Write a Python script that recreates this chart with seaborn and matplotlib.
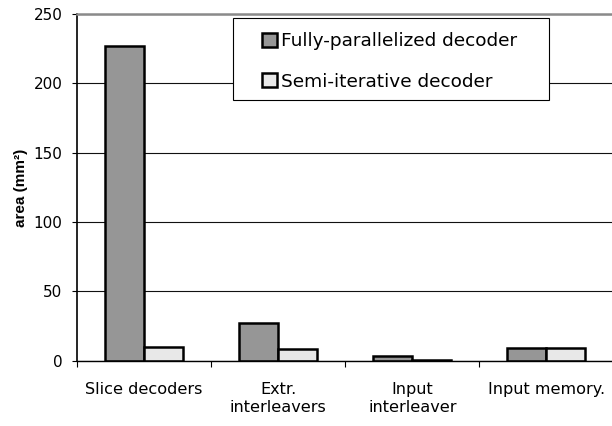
import numpy as np
import pandas as pd
import matplotlib
matplotlib.use("Agg")
import matplotlib.pyplot as plt
from matplotlib.patches import Rectangle
import seaborn as sns

categories = ["Slice decoders", "Extr.\ninterleavers", "Input\ninterleaver", "Input memory."]
series_names = ["Fully-parallelized decoder", "Semi-iterative decoder"]
fully_parallel = [227, 27, 3.5, 9.5]
semi_iterative = [10, 8.5, 0.8, 9.5]
colors = ["#969696", "#e8e8e8"]

df = pd.DataFrame({
    "category": categories * 2,
    "series": [series_names[0]] * 4 + [series_names[1]] * 4,
    "area": fully_parallel + semi_iterative,
})

sns.set_style("white")
plt.rcParams["font.family"] = ["DejaVu Sans"]
plt.rcParams.update({"text.color": "black", "axes.labelcolor": "black",
                     "xtick.color": "black", "ytick.color": "black"})

fig = plt.figure(figsize=(6.12, 4.26), dpi=100)
ax = fig.add_axes([0.126, 0.153, 0.874, 0.814])

sns.barplot(data=df, x="category", y="area", hue="series", palette=colors,
            width=0.58, gap=0, edgecolor="black", linewidth=1.8, ax=ax,
            errorbar=None, legend=True)

ax.set_ylim(0, 250)
ax.set_yticks(np.arange(0, 251, 50))
ax.set_xlim(-0.5, 3.49)
ax.yaxis.grid(True, color="#111111", linewidth=0.8)
ax.set_axisbelow(True)

ax.spines["right"].set_visible(False)
ax.spines["top"].set_color("#8a8a8a")
ax.spines["top"].set_linewidth(1.8)
ax.spines["left"].set_color("black")
ax.spines["left"].set_linewidth(1.2)
ax.spines["bottom"].set_color("black")
ax.spines["bottom"].set_linewidth(1.0)

ax.tick_params(axis="y", left=True, length=3.6, width=0.8, labelsize=11, pad=7)
ax.tick_params(axis="x", bottom=False, labelsize=11.6, pad=12)
# category separator ticks
ax.set_xticks(np.arange(-0.5, 3.5, 1.0), minor=True)
ax.tick_params(axis="x", which="minor", bottom=True, length=4.5, width=0.8, direction="out")

ax.set_xlabel("")
ax.set_ylabel("area (mm²)", fontsize=11, fontweight="bold", labelpad=4,
              family=["Liberation Sans", "DejaVu Sans"])

leg = ax.legend(loc="upper left", bbox_to_anchor=(0.346, 0.948), fontsize=13.3,
                frameon=False, handlelength=0.8, handleheight=0.8,
                handletextpad=0.2, borderpad=0, labelspacing=1.22, borderaxespad=0)
for h in leg.legend_handles:
    h.set_edgecolor("black")
    h.set_linewidth(1.8)

# legend box
ax.add_patch(Rectangle((0.2916, 0.752), 0.5907, 0.236, transform=ax.transAxes,
                       facecolor="white", edgecolor="black", linewidth=0.8,
                       zorder=4, clip_on=False))
leg.set_zorder(5)

fig.savefig("out.png", dpi=100)
